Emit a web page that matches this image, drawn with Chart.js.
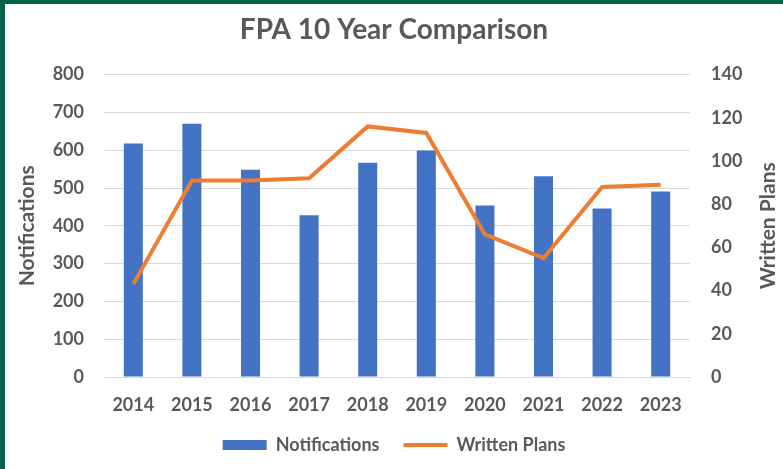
<!DOCTYPE html>
<html>
<head>
<meta charset="utf-8">
<script src="https://cdn.jsdelivr.net/npm/chart.js@4.4.0/dist/chart.umd.min.js"></script>
<style>
  html, body { margin: 0; padding: 0; background: #04634a; }
  #frame { position: absolute; left: 5px; top: 4px; width: 778px; height: 465px; background: #fff; }
</style>
</head>
<body>
<div id="frame"><canvas id="fpaChart"></canvas></div>
<script>
const years = ['2014', '2015', '2016', '2017', '2018', '2019', '2020', '2021', '2022', '2023'];
const notifications = [618, 670, 548, 428, 567, 599, 454, 531, 446, 491];
const writtenPlans = [43, 91, 91, 92, 116, 113, 66, 55, 88, 89];
const leftTicks = [0, 100, 200, 300, 400, 500, 600, 700, 800];
const rightTicks = [0, 20, 40, 60, 80, 100, 120, 140];

const textGray = '#595959';
const fontFamily = 'Lato, "Open Sans", sans-serif';

// right axis title reads bottom-to-top like the left one
const rightTitlePlugin = {
    id: 'rightTitle',
    afterDraw(chart) {
        const ctx = chart.ctx;
        const area = chart.chartArea;
        ctx.save();
        ctx.translate(763, (area.top + area.bottom) / 2);
        ctx.rotate(-Math.PI / 2);
        ctx.font = 'bold 21px ' + fontFamily;
        ctx.fillStyle = textGray;
        ctx.textAlign = 'center';
        ctx.textBaseline = 'middle';
        ctx.fillText('Written Plans', 0, 0);
        ctx.restore();
    }
};

function initializeChart() {
    const ctx = document.getElementById('fpaChart');
    new Chart(ctx, {
        type: 'bar',
        data: {
            labels: years,
            datasets: [{
                type: 'line',
                label: 'Written Plans',
                data: writtenPlans,
                yAxisID: 'y1',
                borderColor: '#ED7D31',
                backgroundColor: '#ED7D31',
                borderWidth: 4,
                pointRadius: 0,
                pointStyle: 'line',
                tension: 0,
                order: 1
            }, {
                label: 'Notifications',
                data: notifications,
                yAxisID: 'y',
                backgroundColor: '#4472C4',
                borderWidth: 0,
                pointStyle: 'rect',
                barPercentage: 0.65,
                categoryPercentage: 0.5,
                order: 2
            }]
        },
        options: {
            responsive: true,
            maintainAspectRatio: false,
            animation: false,
            layout: { padding: { left: 0, right: 0, top: 0, bottom: 5 } },
            plugins: {
                title: {
                    display: true,
                    text: 'FPA 10 Year Comparison',
                    color: textGray,
                    font: { family: fontFamily, size: 28, weight: 'bold' },
                    padding: { top: 9, bottom: 28 }
                },
                legend: {
                    position: 'bottom',
                    reverse: true,
                    labels: {
                        color: textGray,
                        font: { family: fontFamily, size: 18, weight: 'bold' },
                        usePointStyle: true,
                        boxWidth: 44,
                        boxHeight: 10,
                        pointStyleWidth: 44,
                        padding: 24
                    }
                },
                tooltip: { enabled: false }
            },
            scales: {
                x: {
                    afterFit: (axis) => { axis.height = 35; },
                    grid: { display: false, drawTicks: false },
                    border: { color: '#d9d9d9' },
                    ticks: {
                        color: textGray,
                        font: { family: fontFamily, size: 18, weight: 'bold' },
                        padding: 17
                    }
                },
                y: {
                    position: 'left',
                    min: 0,
                    max: 800,
                    afterBuildTicks: (axis) => { axis.ticks = leftTicks.map(v => ({ value: v })); },
                    afterFit: (axis) => { axis.width = 99; },
                    grid: { color: '#d9d9d9', drawTicks: false },
                    border: { display: false },
                    ticks: {
                        color: textGray,
                        font: { family: fontFamily, size: 18, weight: 'bold' },
                        padding: 20
                    },
                    title: {
                        display: true,
                        text: 'Notifications',
                        color: textGray,
                        font: { family: fontFamily, size: 21, weight: 'bold' },
                        padding: { top: 10, bottom: 0 }
                    }
                },
                y1: {
                    position: 'right',
                    min: 0,
                    max: 140,
                    afterBuildTicks: (axis) => { axis.ticks = rightTicks.map(v => ({ value: v })); },
                    afterFit: (axis) => { axis.width = 93; },
                    grid: { display: false, drawTicks: false },
                    border: { display: false },
                    ticks: {
                        color: textGray,
                        font: { family: fontFamily, size: 18, weight: 'bold' },
                        padding: 21
                    }
                }
            }
        },
        plugins: [rightTitlePlugin]
    });
}

if (document.readyState === 'loading') {
    document.addEventListener('DOMContentLoaded', initializeChart);
} else {
    initializeChart();
}
</script>
</body>
</html>
